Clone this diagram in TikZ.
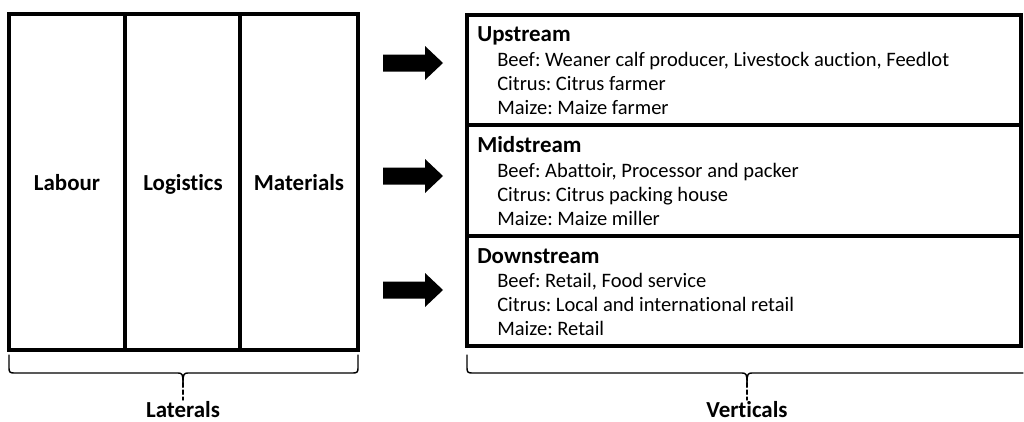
\documentclass[tikz,border=0pt]{standalone}
\usepackage{fontspec}
\setmainfont{Carlito}[Ligatures={NoCommon}]
\frenchspacing
\begin{document}
\begin{tikzpicture}[x=0.025cm,y=-0.025cm,
  thickbox/.style={draw=black,line width=2.2pt},
  lbl/.style={font=\fontsize{16.3}{18}\selectfont\bfseries,anchor=base,inner sep=0pt},
  ttl/.style={font=\fontsize{16.3}{18}\selectfont\bfseries,anchor=base west,inner sep=0pt},
  itm/.style={font=\fontsize{14.6}{16}\selectfont,anchor=base west,inner sep=0pt},
  bracepath/.style={draw=black,line width=1pt,line cap=round},
  bigarrow/.style={fill=black}]
\useasboundingbox (0,0) rectangle (1024,421);
% left block
\draw[thickbox] (9,14) rectangle (358,350);
\draw[thickbox] (125,14) -- (125,350);
\draw[thickbox] (240,14) -- (240,350);
\node[lbl] (labour) at (67,190) {Labour};
\node[lbl] (logistics) at (183,190) {Logistics};
\node[lbl] (materials) at (299,190) {Materials};
% right blocks
\draw[thickbox] (467,15) rectangle (1021,346);
\draw[thickbox] (467,125) -- (1021,125);
\draw[thickbox] (467,236) -- (1021,236);
\node[ttl] (up) at (477,42) {Upstream};
\node[itm] (up1) at (497,66) {Beef: Weaner calf producer, Livestock auction, Feedlot};
\node[itm] (up2) at (497,90) {Citrus: Citrus farmer};
\node[itm] (up3) at (497,114) {Maize: Maize farmer};
\node[ttl] (mid) at (477,152) {Midstream};
\node[itm] (mid1) at (497,177) {Beef: Abattoir, Processor and packer};
\node[itm] (mid2) at (497,201) {Citrus: Citrus packing house};
\node[itm] (mid3) at (497,225) {Maize: Maize miller};
\node[ttl] (down) at (477,263) {Downstream};
\node[itm] (down1) at (497,287) {Beef: Retail, Food service};
\node[itm] (down2) at (497,311) {Citrus: Local and international retail};
\node[itm] (down3) at (497,335) {Maize: Retail};
% arrows
\foreach \yc in {63,176,290}{
  \fill[bigarrow] (383,\yc-8.5) -- (425,\yc-8.5) -- (425,\yc-17) -- (443,\yc) -- (425,\yc+17) -- (425,\yc+8.5) -- (383,\yc+8.5) -- cycle;
}
% braces
\draw[bracepath] (9,355) -- (9,368) .. controls (9,372) and (10,373) .. (14,373) -- (178,373) .. controls (182,373) and (183,374) .. (183,383);
\draw[bracepath] (358,355) -- (358,368) .. controls (358,372) and (357,373) .. (353,373) -- (188,373) .. controls (184,373) and (183,374) .. (183,383);
\coordinate (lt) at (183,383);
\coordinate (lb) at (183,400);
\draw[bracepath,dashed,dash pattern=on 3pt off 2pt] (lt) -- (lb);
\node[lbl] (laterals) at (183,417) {Laterals};
\draw[bracepath] (467,355) -- (467,368) .. controls (467,372) and (468,373) .. (472,373) -- (742,373) .. controls (746,373) and (747,374) .. (747,383);
\draw[bracepath] (1023,373) -- (752,373) .. controls (748,373) and (747,374) .. (747,383);
\coordinate (vt) at (747,383);
\coordinate (vb) at (747,400);
\draw[bracepath,dashed,dash pattern=on 3pt off 2pt] (vt) -- (vb);
\node[lbl] (verticals) at (747,417) {Verticals};
\end{tikzpicture}
\end{document}
